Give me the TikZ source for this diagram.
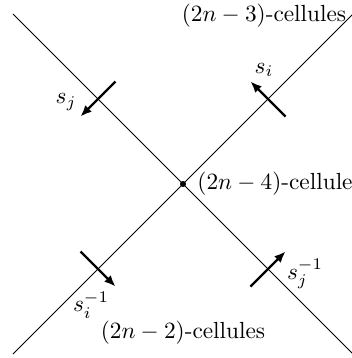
\documentclass[tikz,border=0pt]{standalone}
\usetikzlibrary{arrows.meta}
\begin{document}
\begin{tikzpicture}[x=0.429pt,y=-0.429pt,
  diag/.style={line width=0.4pt},
  genarrow/.style={line width=0.95pt,-{Latex[length=4.8pt,width=4pt]}},
  lbl/.style={inner sep=0pt}]
\useasboundingbox (0,0) rectangle (351,358);
\coordinate (A1) at (13,14);
\coordinate (A2) at (353,354);
\coordinate (B1) at (13,354);
\coordinate (B2) at (353,14);
\draw[diag] (A1) -- (A2);
\draw[diag] (B1) -- (B2);
\node[circle,fill,inner sep=0pt,minimum size=2.6pt] (c) at (183,184) {};
% arrows
\coordinate (sjT) at (115.5,81.5);  \coordinate (sjH) at (80.5,116.5);
\coordinate (siT) at (285.5,116.5); \coordinate (siH) at (250.5,81.5);
\coordinate (siiT) at (80.5,251.5); \coordinate (siiH) at (115.5,286.5);
\coordinate (sjiT) at (250.5,286.5); \coordinate (sjiH) at (285.5,251.5);
\draw[genarrow] (sjT) -- (sjH);
\draw[genarrow] (siT) -- (siH);
\draw[genarrow] (siiT) -- (siiH);
\draw[genarrow] (sjiT) -- (sjiH);
% labels
\node[lbl] (lsj) at (66,102) {$s_j$};
\node[lbl] (lsi) at (264,70) {$s_i$};
\node[lbl] (lsii) at (91,305) {$s_i^{-1}$};
\node[lbl] (lsji) at (305,274) {$s_j^{-1}$};
\node[lbl] (t3) at (264,16) {$(2n-3)$-cellules};
\node[lbl,anchor=west] (t4) at (197,184) {$(2n-4)$-cellules};
\node[lbl] (t2) at (183,333) {$(2n-2)$-cellules};
\end{tikzpicture}
\end{document}
